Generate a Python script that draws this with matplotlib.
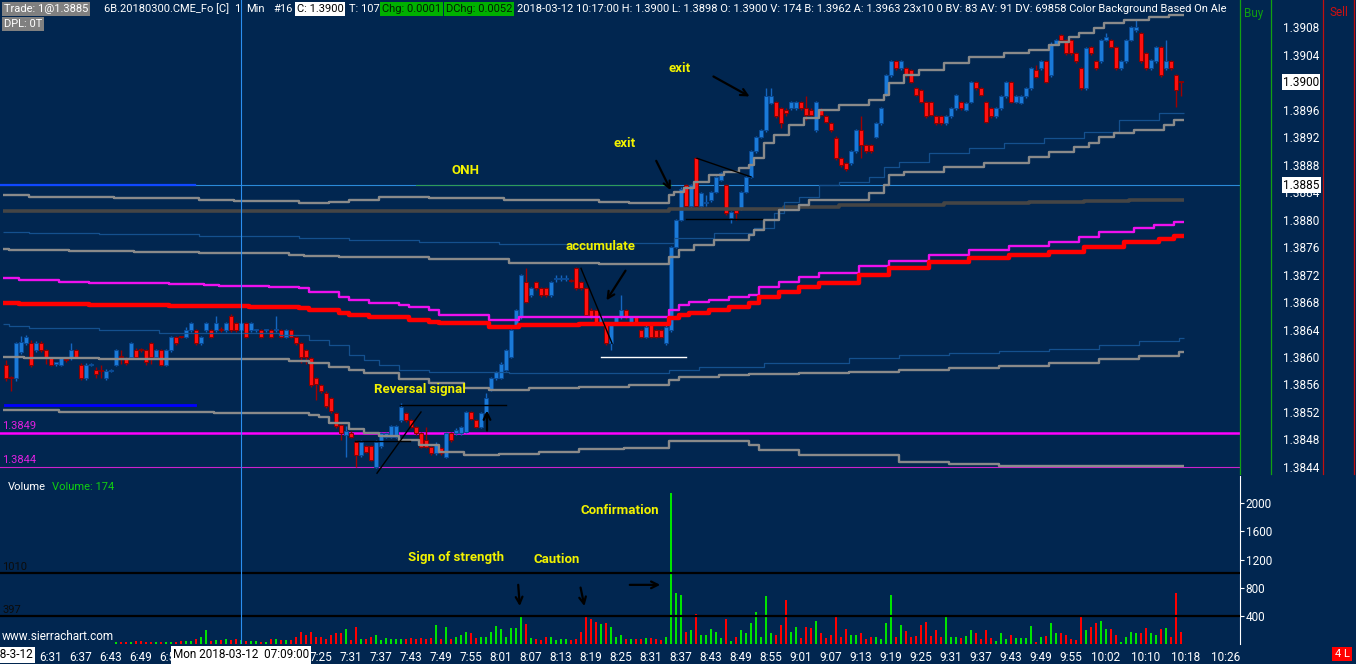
import matplotlib
matplotlib.use("Agg")
import matplotlib.pyplot as plt
import numpy as np
from matplotlib.patches import Rectangle

W, H, DPI = 1356, 664, 100
BG = "#012650"
plt.rcParams["font.family"] = ["Roboto", "DejaVu Sans"]

# ---------------- data (prices in pips above 1.3800) ----------------
BASE, PIP = 1.3800, 0.0001
session_start = "6:22"

opens_p = [58.9,56.9,56.9,60.8,62.0,62.0,61.0,62.0,61.0,59.8,59.0,58.9,59.5,59.8,61.0,58.9,56.9,58.9,58.1,58.0,
           56.9,58.0,58.9,60.1,59.8,60.0,61.0,61.1,61.0,62.0,60.0,61.0,58.9,61.0,62.9,62.9,62.9,63.9,63.9,62.0,
           63.9,63.9,63.9,64.0,63.9,66.0,64.9,63.9,64.9,63.9,63.9,63.9,63.9,63.9,63.9,63.9,62.9,63.9,62.9,62.0,
           61.0,59.8,56.9,55.9,54.8,54.0,51.8,50.1,48.7,49.0,47.7,45.7,47.0,47.0,44.0,47.0,48.4,48.4,48.4,50.8,
           51.8,50.8,49.8,48.9,47.9,46.9,46.0,46.7,45.5,48.9,48.9,48.9,49.1,52.0,50.8,49.8,51.8,55.2,56.9,57.0,
           58.1,60.0,64.4,65.8,70.9,69.0,70.9,70.0,70.0,69.0,71.3,71.3,71.3,71.1,72.9,70.9,70.0,66.9,66.8,64.9,
           64.9,62.0,64.9,65.8,66.8,64.9,65.8,63.9,62.9,64.9,63.9,63.9,62.0,63.9,76.0,80.0,85.0,81.9,88.9,81.9,
           82.4,82.8,84.0,85.8,85.0,80.2,81.4,81.6,84.0,86.2,89.9,92.0,93.0,97.0,97.1,96.2,96.0,96.2,96.2,97.1,
           96.2,96.0,93.0,96.0,95.0,94.0,91.9,88.9,88.2,88.2,89.9,93.0,90.8,90.8,92.0,94.0,98.1,101.0,103.0,102.0,
           102.0,101.7,99.1,98.8,97.1,97.1,95.0,95.0,94.0,95.0,96.2,97.1,96.0,97.1,100.0,99.1,97.1,96.2,95.0,96.2,
           97.9,100.0,97.1,97.0,97.9,99.1,101.8,102.0,103.0,101.0,105.6,106.8,106.1,106.1,104.2,102.0,99.1,105.1,103.0,103.0,
           106.1,106.1,105.1,102.0,103.0,106.1,107.5,107.1,104.2,102.0,103.0,105.1,102.0,103.0,101.0,100.0]
highs_p = [59.5,57.2,62.2,63.0,63.2,62.5,62.3,62.3,61.2,60.0,59.3,60.0,59.7,62.0,61.2,59.1,59.1,59.1,58.5,58.9,
           58.2,58.3,61.2,61.0,60.0,62.2,61.3,61.3,61.2,62.2,61.2,61.2,61.2,63.1,63.1,63.1,64.3,65.1,64.1,63.1,
           65.1,64.1,66.0,64.4,65.1,66.2,65.1,65.1,65.1,65.1,64.1,64.1,64.1,64.1,66.0,64.1,64.1,64.1,63.1,62.2,
           61.2,60.0,57.1,56.1,55.0,54.2,52.0,50.3,49.9,49.2,47.9,47.9,47.2,47.2,47.9,49.1,49.1,50.1,50.1,53.3,
           52.0,51.0,50.0,49.1,49.8,47.1,47.6,46.9,49.1,49.1,49.6,50.0,52.2,52.2,51.0,52.0,54.7,57.1,58.0,59.2,
           61.2,64.1,67.0,72.1,72.9,70.2,71.1,70.2,70.2,71.1,71.9,71.9,71.9,71.3,73.1,71.1,70.2,67.1,67.0,66.0,
           65.1,65.1,66.0,69.0,67.0,66.0,66.0,64.1,64.6,65.1,64.1,64.1,64.6,76.2,80.1,84.7,85.2,85.2,89.1,84.0,
           83.5,84.2,86.4,86.9,85.2,81.3,81.6,84.2,86.4,90.1,92.2,93.2,99.1,99.1,97.3,96.4,96.2,97.3,97.3,97.3,
           97.9,96.2,97.3,96.2,95.2,94.2,92.1,89.1,88.4,90.1,93.2,95.0,91.0,91.0,94.2,96.4,101.2,103.2,103.2,103.2,
           102.2,101.9,99.3,99.0,97.3,97.3,95.2,95.2,95.2,96.4,98.3,97.3,97.1,100.2,100.2,99.3,97.3,96.4,96.4,98.1,
           100.2,100.2,98.1,98.1,99.3,102.2,102.5,103.2,103.2,105.8,106.3,107.0,106.3,106.3,104.4,102.2,105.1,105.3,103.2,106.3,
           107.1,106.3,105.3,103.2,106.3,108.2,109.0,107.3,104.4,103.4,105.3,105.3,106.1,103.2,101.2,100.0]
lows_p = [56.5,55.0,56.5,60.5,61.8,58.5,60.8,60.8,59.0,58.7,58.7,58.7,59.3,59.6,59.8,56.7,56.7,58.7,56.9,56.9,
          56.7,57.8,58.7,59.0,58.8,59.8,59.8,60.8,58.8,59.0,59.8,58.7,58.7,60.8,61.8,62.7,62.7,63.7,61.8,61.8,
          63.7,62.7,63.7,63.7,63.7,63.7,63.7,63.7,62.7,63.7,63.7,62.7,63.7,62.7,63.7,62.7,62.7,62.7,61.8,59.1,
          59.0,55.7,53.7,54.8,52.6,51.9,49.7,47.9,45.5,48.2,44.0,45.5,46.0,44.8,43.8,46.8,48.2,48.2,48.2,50.6,
          50.6,49.6,48.7,46.7,46.7,45.8,45.8,45.8,45.3,47.7,48.7,48.7,48.9,50.8,49.6,49.6,51.6,55.0,56.7,56.8,
          57.9,59.8,64.2,65.6,67.8,68.8,69.8,68.8,68.8,68.8,70.9,71.0,71.0,70.9,69.8,69.8,65.9,65.6,64.7,64.7,
          61.8,61.0,64.7,65.6,65.6,64.7,64.7,62.7,62.7,62.7,62.7,62.7,61.8,63.7,75.8,79.8,81.7,81.7,81.7,81.7,
          81.9,82.6,83.8,85.6,80.7,79.5,80.0,81.4,83.8,86.0,89.7,91.8,92.8,96.8,94.8,93.3,95.0,96.0,96.0,96.0,
          94.5,95.0,92.8,95.0,94.0,92.8,88.7,87.7,87.0,88.0,89.7,89.0,89.7,89.7,91.8,93.8,97.9,100.8,101.8,101.8,
          100.8,99.8,97.9,96.9,94.8,95.0,93.8,93.8,93.8,94.8,96.0,96.0,95.8,96.9,98.9,97.9,94.0,94.8,94.8,96.0,
          97.7,96.9,96.9,96.8,97.7,98.9,100.6,101.8,99.8,100.8,105.4,105.9,104.0,104.0,102.8,98.9,98.9,104.0,101.8,102.8,
          105.9,104.9,101.8,101.8,102.8,105.9,107.3,102.8,101.8,101.8,102.8,100.8,101.8,101.8,96.4,98.0]
closes_p = [56.9,56.9,62.0,62.2,62.9,58.9,62.0,61.0,59.8,58.9,59.2,59.8,59.5,61.0,60.0,56.9,58.9,59.0,57.5,57.9,
            58.0,58.1,61.0,60.0,59.1,62.0,60.0,61.0,59.2,60.0,61.0,58.9,61.0,62.9,62.0,62.9,63.9,64.9,62.0,62.9,
            64.9,62.9,64.9,63.9,64.9,63.9,63.9,64.9,62.9,64.9,64.0,62.9,64.0,62.9,64.0,62.9,63.9,62.9,62.0,60.0,
            60.0,55.9,56.0,55.0,52.8,52.1,49.9,48.9,49.2,48.4,45.7,47.7,46.2,45.0,47.7,48.9,48.9,49.9,49.9,52.7,
            50.8,49.8,48.9,46.9,46.9,46.0,47.4,46.0,48.9,47.9,49.4,49.8,52.0,51.0,49.8,51.8,54.0,56.9,57.8,59.0,
            61.0,63.9,66.8,71.9,68.0,70.0,70.0,69.0,69.0,70.9,71.5,71.5,71.5,71.0,70.0,70.0,66.1,65.8,64.9,65.8,
            62.0,64.9,65.8,66.8,65.8,65.8,64.9,62.9,64.4,62.9,62.9,62.9,64.4,76.0,79.9,84.5,81.9,85.0,81.9,83.8,
            82.6,84.0,86.2,86.7,80.9,81.1,80.9,84.0,86.2,89.9,92.0,93.0,97.9,97.9,95.0,94.0,95.5,97.1,97.1,96.2,
            95.2,95.2,97.1,95.2,94.2,93.0,88.9,87.9,87.4,89.9,93.0,90.8,89.9,89.9,94.0,96.2,101.0,103.0,102.0,103.0,
            101.0,100.0,98.1,97.1,95.0,95.2,94.0,94.0,95.0,96.2,98.1,96.2,96.9,100.0,99.1,98.1,94.2,95.0,96.2,97.9,
            100.0,97.1,97.9,97.9,99.1,102.0,100.8,103.0,100.0,105.6,106.1,106.1,104.2,104.2,103.0,99.1,104.9,104.2,102.0,106.1,
            106.5,105.1,102.0,103.0,106.1,108.0,108.0,103.0,102.0,103.2,105.1,101.0,103.0,102.0,98.8,100.0]
volumes = [40,35,55,45,30,50,38,42,33,47,36,30,44,52,39,34,48,41,37,45,33,40,
           33,33,33,33,43,43,33,33,24,33,33,33,33,43,43,43,67,105,200,43,50,57,67,57,67,50,43,43,
           43,33,24,67,67,57,57,57,105,176,129,176,105,100,67,129,152,162,210,57,238,67,67,105,129,57,81,67,67,67,
           67,81,67,81,67,81,272,67,248,67,105,129,176,152,81,105,105,176,262,210,105,224,224,391,286,81,67,57,95,95,
           57,67,67,57,67,176,391,357,319,286,296,248,95,129,67,67,67,67,81,81,67,57,105,2140,720,700,176,200,428,129,
           129,210,176,90,357,48,95,200,152,296,448,105,680,162,129,272,625,176,238,81,248,224,333,152,81,129,400,95,
           210,129,129,152,67,95,95,67,305,695,95,272,190,105,114,272,319,114,200,105,391,105,105,81,114,200,152,67,
           200,81,48,152,67,129,81,81,81,257,33,95,114,305,162,152,129,67,57,381,200,248,296,333,210,210,129,33,
           95,176,152,162,224,152,129,210,224,95,725,174]

# step-line indicator bands: (bar index where value starts, value in pips)
outer_up_idx = [0,5,22,39,46,59,65,69,75,85,100,119,125,133,134,136,138,141,144,147,149,150,152,154,157,160,163,167,
                173,176,177,180,183,188,193,200,205,209,211,213,215,218,220,224,229,233]
outer_up_val = [83.6,83.3,83.1,82.8,82.7,82.4,82.5,82.9,83.3,83.1,82.8,82.5,82.4,83.6,84.0,84.6,85.5,86.5,86.9,87.5,
                87.9,88.9,91.1,92.3,93.7,94.8,95.9,96.7,97.4,98.1,99.9,101.0,101.7,102.8,103.6,104.2,104.7,105.4,
                105.8,106.5,107.1,107.9,108.6,109.0,109.4,109.7]
onh_idx = [0,133,156,167,188,205,216,225]
onh_val = [81.2,81.5,81.8,82.1,82.4,82.5,82.7,82.8]
thin_up_idx = [0,5,19,39,59,69,83,99,119,134,142,150,154,156,159,163,167,173,176,179,185,193,200,208,216,223,231]
thin_up_val = [78.2,78.0,77.9,77.6,77.3,77.0,76.7,76.4,76.6,77.3,78.0,78.8,80.9,82.5,83.3,85.0,85.5,86.2,87.6,88.4,
               89.7,90.4,91.1,91.9,92.7,94.5,95.5]
inner_up_idx = [0,1,13,26,39,57,60,67,85,101,119,133,135,138,142,149,150,152,155,159,161,173,176,177,180,188,196,
                205,209,214,217,219,222,226,232,234]
inner_up_val = [75.7,75.6,75.4,75.3,75.1,74.8,74.7,74.5,74.3,73.7,73.5,74.5,75.6,76.3,77.0,77.7,78.5,79.9,81.4,82.1,
                82.8,83.9,85.0,86.5,86.9,87.6,88.2,89.1,89.8,90.5,91.1,92.0,92.6,93.0,93.7,94.5]
mag_idx = [0,3,11,17,33,40,43,53,59,61,67,69,73,79,81,85,87,97,103,133,135,137,141,145,149,151,155,159,163,171,177,
           185,193,201,209,215,219,226,230,234]
mag_val = [71.5,71.2,70.9,70.8,70.6,70.5,70.3,70.2,70.0,69.5,68.7,68.3,67.9,67.6,67.3,66.8,66.1,65.4,65.8,66.8,67.6,
           68.0,68.3,68.7,69.0,70.2,70.9,71.6,72.2,73.3,74.0,74.8,75.6,76.1,76.7,77.5,78.2,78.8,79.2,79.6]
vwap_idx = [0,3,17,33,49,59,61,67,69,73,81,85,87,97,103,115,133,135,137,141,145,149,151,155,159,163,171,177,185,193,
            201,209,216,224,231,234]
vwap_val = [67.9,67.7,67.6,67.4,67.3,67.1,66.8,66.4,66.1,65.8,65.4,65.1,65.0,64.4,64.7,64.8,65.7,66.1,66.4,66.8,67.3,
            67.9,68.7,69.5,70.2,70.8,72.0,73.0,73.8,74.4,74.8,75.3,76.0,76.7,77.2,77.6]
thin_dn_idx = [0,1,5,19,31,55,61,65,69,72,75,79,85,101,133,139,152,169,179,189,199,209,219,227,235]
thin_dn_val = [64.8,64.5,64.2,63.9,63.5,63.2,62.5,61.7,60.3,59.6,58.8,58.1,57.8,57.7,58.1,58.5,59.1,59.9,60.3,60.6,
               60.9,61.2,61.7,62.3,62.8]
inner_dn_idx = [0,4,19,57,61,65,69,72,79,85,92,97,105,115,125,133,135,143,149,159,169,179,189,199,209,219,227,235]
inner_dn_val = [60.0,59.9,59.7,59.4,59.1,58.5,58.1,57.7,56.8,56.2,55.5,55.2,55.5,55.6,55.9,56.7,57.1,57.4,57.5,57.7,
                57.8,58.1,58.4,58.7,59.1,59.7,60.2,60.7]
outer_dn_idx = [0,11,42,61,63,65,69,72,75,79,83,87,92,99,107,115,124,133,149,151,159,179,189,199]
outer_dn_val = [52.3,52.0,51.9,51.6,51.3,50.4,49.5,48.9,48.5,47.9,47.2,46.2,45.7,45.9,46.2,46.6,46.8,47.8,47.2,46.5,
                45.7,44.7,44.4,44.1]

level_lines = [1.3849, 1.3844]
last_trade = 1.3885
last_price = 1.3900
vol_levels = [1010, 397]
price_ticks = [1.3844 + k * 0.0004 for k in range(17)]
vol_ticks = [400, 800, 1200, 1600, 2000]
time_labels = ["6:31","6:37","6:43","6:49","6:55","7:01","7:07","7:13","7:19","7:25","7:31","7:37","7:43",
               "7:49","7:55","8:01","8:07","8:13","8:19","8:25","8:31","8:37","8:43","8:49","8:55","9:01",
               "9:07","9:13","9:19","9:25","9:31","9:37","9:43","9:49","9:55","10:02","10:10","10:18","10:26"]
hidden_labels = ["7:01", "7:07", "7:13", "7:19"]   # covered by the crosshair date box
crosshair_bar = 47

# ---------------- derived ----------------
N = len(closes_p)
x = np.arange(N)
O = BASE + np.array(opens_p) * PIP
Hh = BASE + np.array(highs_p) * PIP
L = BASE + np.array(lows_p) * PIP
C = BASE + np.array(closes_p) * PIP
up = C > O

def tmin(s):
    h, m = s.split(":")
    return int(h) * 60 + int(m)
tick_pos = [tmin(t) - tmin(session_start) for t in time_labels]
tick_txt = ["" if t in hidden_labels else t for t in time_labels]

# pixel geometry
XMIN, XMAX = -1.2, 246.8
P_BOT, V_BOT, RIGHT = 476, 644, 1240
YMIN, YMAX = BASE + 42.69 * PIP, BASE + 111.93 * PIP

fig = plt.figure(figsize=(W / DPI, H / DPI), dpi=DPI, facecolor=BG)
axp = fig.add_axes([0, 1 - P_BOT / H, RIGHT / W, P_BOT / H])
axv = fig.add_axes([0, 1 - V_BOT / H, RIGHT / W, (V_BOT - P_BOT) / H])
for ax in (axp, axv):
    ax.set_facecolor(BG)
    ax.set_xlim(XMIN, XMAX)
    for s in ax.spines.values():
        s.set_visible(False)
axp.set_ylim(YMIN, YMAX)
axv.set_ylim(0, 2386)

# price axis labels on the right
axp.set_xticks([])
axp.yaxis.tick_right()
axp.set_yticks(price_ticks)
axp.set_yticklabels([f"{p:.4f}" for p in price_ticks])
axp.tick_params(axis="y", length=0, pad=31, labelcolor="white", labelsize=8.5)

# volume axes
axv.spines["right"].set_visible(True)
axv.spines["right"].set_color("white")
axv.yaxis.tick_right()
axv.set_yticks(vol_ticks)
axv.set_yticklabels([str(v) for v in vol_ticks])
axv.tick_params(axis="y", colors="white", length=3, pad=1, labelsize=8.5)
axv.set_xticks(tick_pos)
axv.set_xticklabels(tick_txt)
axv.tick_params(axis="x", colors="white", length=0, pad=5, labelsize=8.5)

# ---------------- bands ----------------
def band(ax, idx, vals, **kw):
    xs = list(np.array(idx, float) - 0.5) + [N - 0.5]
    ys = [BASE + v * PIP for v in vals] + [BASE + vals[-1] * PIP]
    ax.plot(xs, ys, drawstyle="steps-post", solid_capstyle="butt", **kw)

# horizontal reference lines
axp.axhline(last_trade, color="#2a8ad8", lw=0.8, zorder=1)
axp.plot([82, 133], [last_trade, last_trade], color="#2e9a5a", lw=0.8, zorder=1)
axp.plot([-1.2, 37.8], [last_trade, last_trade], color="#1048ff", lw=1.6, zorder=1)
axp.plot([-0.2, 37.8], [BASE + 53.0 * PIP] * 2, color="#0000ff", lw=2.0, zorder=1)
axp.axhline(level_lines[0], color="#ff00ff", lw=1.8, zorder=1)
axp.axhline(level_lines[1], color="#cc22cc", lw=0.8, zorder=1)

# candles
wick_col = np.where(up, "#1565c0", "#a00000")
axp.vlines(x, L, Hh, colors=wick_col, lw=1.0, zorder=2)
body_lo = np.minimum(O, C)
body_h = np.maximum(np.abs(C - O), 0.15 * PIP)
axp.bar(x, body_h, bottom=body_lo, width=0.62,
        color=np.where(up, "#1a7ad8", "#ff1010"),
        edgecolor=np.where(up, "#0a4a94", "#8a0000"), linewidth=0.7, zorder=2)

band(axp, onh_idx, onh_val, color="#454545", lw=2.6, zorder=3)
band(axp, thin_up_idx, thin_up_val, color="#14508e", lw=0.9, zorder=3)
band(axp, thin_dn_idx, thin_dn_val, color="#14508e", lw=0.9, zorder=3)
band(axp, outer_up_idx, outer_up_val, color="#8a8a8a", lw=1.7, zorder=3)
band(axp, inner_up_idx, inner_up_val, color="#8a8a8a", lw=1.7, zorder=3)
band(axp, inner_dn_idx, inner_dn_val, color="#8a8a8a", lw=1.7, zorder=3)
band(axp, outer_dn_idx, outer_dn_val, color="#8a8a8a", lw=1.7, zorder=3)
band(axp, mag_idx, mag_val, color="#ee10ee", lw=1.7, zorder=3)
band(axp, vwap_idx, vwap_val, color="#ff0000", lw=3.2, zorder=3)

# labels of level lines
tr = axp.get_yaxis_transform()
axp.text(0.002, level_lines[0] + 0.2 * PIP, "1.3849", transform=tr, color="#e020e0", fontsize=8, va="bottom")
axp.text(0.002, level_lines[1] + 0.3 * PIP, "1.3844", transform=tr, color="#e020e0", fontsize=8, va="bottom")

# current price boxes
for p in (last_price, last_trade):
    axp.text(1 + 43 / RIGHT, p, f"{p:.4f}", transform=tr, color="black", fontsize=8.5, va="center",
             ha="left", bbox=dict(boxstyle="square,pad=0.1", fc="white", ec="none"), clip_on=False, zorder=10)

# crosshair
axp.axvline(crosshair_bar, color="#2b8ff0", lw=0.8, zorder=4)
axv.axvline(crosshair_bar, color="#2b8ff0", lw=0.8, zorder=4)

# volume
axv.bar(x, volumes, width=0.45, color=np.where(up, "#00e400", "#ff0000"), zorder=2)
for v in vol_levels:
    axv.axhline(v, color="black", lw=1.6, zorder=3)
trv = axv.get_yaxis_transform()
axv.text(0.002, vol_levels[0] + 15, "1010", transform=trv, color="#0c0c0c", fontsize=8, va="bottom")
axv.text(0.002, vol_levels[1] + 15, "397", transform=trv, color="#0c0c0c", fontsize=8, va="bottom")

# ---------------- hand drawn annotations ----------------
YEL = "#f2f200"
def pp(v):
    return BASE + v * PIP
def note(ax, xx, yy, s):
    ax.text(xx, yy, s, color=YEL, fontsize=9.5, fontweight="bold", ha="center", va="center", zorder=6)
def arrow(ax, x0, y0, x1, y1):
    ax.annotate("", xy=(x1, y1), xytext=(x0, y0),
                arrowprops=dict(arrowstyle="->", color="black", lw=1.6, mutation_scale=12), zorder=6)
def seg(ax, x0, y0, x1, y1, c="black", lw=1.0):
    ax.plot([x0, x1], [y0, y1], color=c, lw=lw, zorder=5)

note(axp, 91.8, pp(87.2), "ONH")
note(axp, 134.8, pp(102.0), "exit")
note(axp, 123.8, pp(91.1), "exit")
note(axp, 119.0, pp(76.1), "accumulate")
note(axp, 82.8, pp(55.2), "Reversal signal")
arrow(axp, 141.0, pp(101.0), 149.2, pp(97.7))
arrow(axp, 129.8, pp(88.9), 133.2, pp(83.9))
arrow(axp, 124.2, pp(72.9), 119.8, pp(67.9))
seg(axp, 115.0, pp(72.9), 121.2, pp(62.0))
seg(axp, 119.0, pp(60.0), 136.0, pp(60.0), c="white")
seg(axp, 138.2, pp(88.9), 149.0, pp(86.2))
seg(axp, 136.0, pp(80.1), 151.2, pp(80.1))
seg(axp, 78.8, pp(53.0), 100.0, pp(53.0))
seg(axp, 69.8, pp(47.8), 80.8, pp(47.8))
seg(axp, 74.2, pp(43.1), 83.0, pp(52.0))
arrow(axp, 96.2, pp(48.9), 96.2, pp(52.6))

note(axv, 122.8, 1900, "Confirmation")
note(axv, 90.0, 1235, "Sign of strength")
note(axv, 110.2, 1195, "Caution")
arrow(axv, 102.4, 880, 102.8, 500)
arrow(axv, 114.8, 840, 115.8, 500)
arrow(axv, 124.2, 840, 131.4, 840)

# ---------------- overlay (header, right panel, boxes) ----------------
axo = fig.add_axes([0, 0, 1, 1], zorder=20)
axo.set_xlim(0, W)
axo.set_ylim(H, 0)
axo.axis("off")
for xx, c in ((1240, "#12a012"), (1271, "#12a012"), (1323, "#c01010"), (1354, "#c01010")):
    axo.plot([xx, xx], [0, 474], color=c, lw=0.9)
axo.text(1244, 13, "Buy", color="#10a010", fontsize=8.5, va="center")
axo.text(1329, 13, "Sell", color="#d01010", fontsize=8.5, va="center")
axo.text(8, 487, "Volume", color="white", fontsize=8, va="center")
axo.text(52, 487, "Volume: 174", color="#10d010", fontsize=8, va="center")
axo.add_patch(Rectangle((0, 627), 114, 17, fc=BG, ec="none"))
axo.text(2, 636, "www.sierrachart.com", color="white", fontsize=8.5, va="center")
axo.text(33, 655, "2018-3-12", color="black", fontsize=8.5, va="center", ha="right",
         bbox=dict(boxstyle="square,pad=0.15", fc="white", ec="none"))
axo.text(241, 655, "Mon 2018-03-12  07:09:00", color="black", fontsize=8.5, va="center", ha="center",
         bbox=dict(boxstyle="square,pad=0.2", fc="white", ec="none"))
axo.text(1342, 654, "4 L", color="white", fontsize=8, va="center", ha="center",
         bbox=dict(boxstyle="square,pad=0.2", fc="#ff0000", ec="none"))

axh = fig.add_axes([0, 1 - 31 / H, 1239 / W, 31 / H], zorder=21)
axh.set_xlim(0, 1239)
axh.set_ylim(31, 0)
axh.axis("off")
header = [
    (4, 9, "Trade: 1@1.3885", "white", "#808080"),
    (104, 9, "6B.20180300.CME_Fo [C]", "white", None),
    (234, 9, "1", "white", None),
    (246, 9, "Min", "white", None),
    (273, 9, "#16", "white", None),
    (297, 9, "C: 1.3900", "black", "white"),
    (349, 9, "T: 107", "white", None),
    (382, 9, "Chg: 0.0001", "#002000", "#00b000"),
    (446, 9, "DChg: 0.0052", "#002000", "#00b000"),
    (517, 9, "2018-03-12 10:17:00 H: 1.3900 L: 1.3898 O: 1.3900 V: 174 B: 1.3962 A: 1.3963 23x10 0 BV: 83 "
             "AV: 91 DV: 69858 Color Background Based On Ale", "white", None),
    (4, 24, "DPL: 0T", "white", "#808080"),
]
for hx, hy, s, fg, bgc in header:
    kw = {}
    if bgc:
        kw["bbox"] = dict(boxstyle="square,pad=0.15", fc=bgc, ec="none")
    axh.text(hx, hy, s, color=fg, fontsize=8, va="center", ha="left", clip_on=True, **kw)

fig.savefig("out.png", dpi=DPI, facecolor=BG)
